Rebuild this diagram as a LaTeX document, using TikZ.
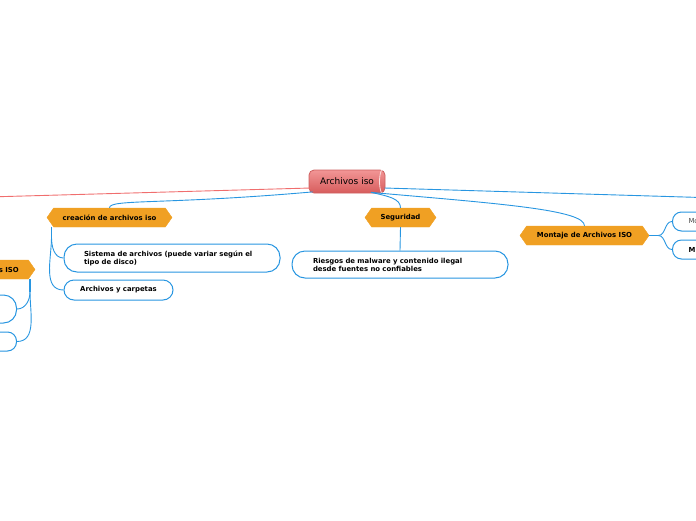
\documentclass[tikz,border=0pt]{standalone}
\usepackage{fontspec}
\setmainfont{DejaVu Sans}
\usetikzlibrary{shapes.symbols,calc}
\definecolor{blu}{RGB}{40,150,225}
\definecolor{org}{RGB}{240,160,35}
\definecolor{redl}{RGB}{240,110,110}
\definecolor{ctop}{RGB}{242,150,150}
\definecolor{cbot}{RGB}{215,92,92}
\definecolor{cbrd}{RGB}{205,95,95}
\begin{document}
\begin{tikzpicture}[x=1pt,y=1pt,
  hexa/.style={signal, signal to=west and east, signal pointer angle=110, fill=org, draw=org,
    minimum height=19pt, inner sep=0pt, font=\fontsize{6.9}{7.5}\selectfont\bfseries, text=black},
  leaf/.style={rectangle, draw=blu, line width=1pt, fill=white, inner ysep=0pt,
    font=\fontsize{6.9}{8}\selectfont\bfseries, text=black},
  conn/.style={draw=blu, line width=0.9pt},
  stub/.style={draw=blu, line width=1.6pt},
]
\useasboundingbox (0,0) rectangle (696,-520);
\clip (0,0) rectangle (696,-520);

% central node
\node[rectangle, rounded corners=5pt, top color=ctop, bottom color=cbot, draw=cbrd, line width=0.8pt,
  minimum width=76pt, minimum height=23pt, inner sep=0pt, font=\fontsize{9}{10}\selectfont, text=black]
  (c) at (347,-181.5) {Archivos iso};
\draw[white!70!ctop, line width=0.8pt] ($(c.north east)+(-4,-0.5)$) .. controls +(-2.5,-6) and +(-2.5,6) .. ($(c.south east)+(-4,0.5)$);

% main branches
\coordinate (lfar) at (-5,-196.8);
\coordinate (rfar) at (701,-197.5);
\draw[redl, line width=0.9pt] ($(c.west)+(2,-6.5)$) -- (lfar);
\draw[conn] ($(c.east)+(-1,-6.5)$) -- (rfar);

% level-1 hexagons
\node[hexa, minimum width=125pt] (cre) at (109.5,-217.5) {creación de archivos iso};
\node[hexa, minimum width=71pt] (seg) at (400.5,-217.5) {Seguridad};
\node[hexa, minimum width=129pt] (mon) at (584.5,-235.5) {Montaje de Archivos ISO};
\node[hexa, minimum width=90pt] (lhex) at (-10,-269.5) {};
\node[anchor=east, inner sep=0pt, font=\fontsize{6.9}{7.5}\selectfont\bfseries] (lhext) at (19,-269.5) {s ISO};

\draw[conn] ($(c.south west)+(4,1.5)$) .. controls +(185:150) and +(90:9) .. (cre.north);
\draw[conn] ($(c.south)+(24,1)$) .. controls +(-12:18) and +(90:9) .. (seg.north);
\draw[conn] ($(c.south)+(24,1)$) .. controls +(-5:130) and +(90:16) .. (mon.north);

% children of creación
\node[leaf, rounded corners=13pt, minimum width=216pt, minimum height=28pt, inner xsep=20pt,
  text width=176pt, align=left] (s1) at (172,-258) {Sistema de archivos (puede variar según el\\tipo de disco)};
\node[leaf, rounded corners=10pt, minimum width=109pt, minimum height=20pt] (s2) at (118.5,-290) {Archivos y carpetas};
\coordinate (creb) at ($(cre.south)+(-58,0)$);
\draw[stub] (creb) -- ++(0,-10) coordinate (crej);
\draw[conn] (crej) to[out=-90, in=180] (s1.west);
\draw[conn] (crej) to[out=-90, in=180] (s2.west);

% child of Seguridad
\node[leaf, rounded corners=13pt, minimum width=216pt, minimum height=27pt, inner xsep=21pt,
  text width=174pt, align=left] (r1) at (400,-264.5) {Riesgos de malware y contenido ilegal\\desde fuentes no confiables};
\draw[conn] (seg.south) -- (r1.north);

% children of Montaje (cut by the edge)
\node[leaf, anchor=west, rounded corners=9pt, minimum width=100pt, minimum height=19pt, inner xsep=16pt,
  text width=68pt, align=left, font=\fontsize{6.9}{8}\selectfont, text=black!70] (m1) at (672,-221.5) {Mo};
\node[leaf, anchor=west, rounded corners=9pt, minimum width=100pt, minimum height=19pt, inner xsep=16pt,
  text width=68pt, align=left] (m2) at (672,-249.5) {M};
\draw[stub] (mon.east) -- ++(9,0) coordinate (monj);
\draw[conn] (monj) to[out=0, in=180] (m1.west);
\draw[conn] (monj) to[out=0, in=180] (m2.west);

% children of the left hexagon (cut by the edge)
\node[leaf, anchor=east, rounded corners=13pt, minimum width=80pt, minimum height=28pt] (lb1) at (17,-309) {};
\node[leaf, anchor=east, rounded corners=9pt, minimum width=80pt, minimum height=19pt] (lb2) at (17,-341.5) {};
\coordinate (lhb) at (30,-279);
\draw[stub] (lhb) -- ++(0,-13) coordinate (lhj);
\draw[conn] (lhj) to[out=-90, in=0] (lb1.east);
\draw[conn] (lhj) to[out=-90, in=0] (lb2.east);
\end{tikzpicture}
\end{document}
